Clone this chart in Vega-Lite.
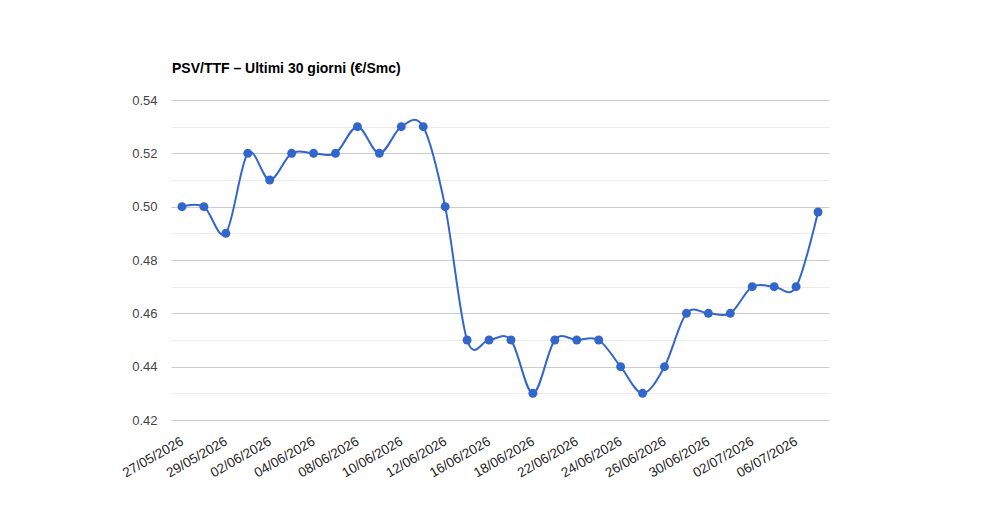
{
  "$schema": "https://vega.github.io/schema/vega-lite/v6.json",
  "autosize": {"type": "none"},
  "width": 658,
  "height": 320,
  "padding": {"left": 171, "top": 100, "right": 171, "bottom": 100},
  "background": "#ffffff",
  "config": {"view": {"stroke": null}, "font": "Liberation Sans"},
  "title": {
    "text": "PSV/TTF – Ultimi 30 giorni (€/Smc)",
    "anchor": "start",
    "frame": "group",
    "font": "Liberation Sans",
    "fontSize": 14,
    "fontWeight": "bold",
    "color": "#000000",
    "baseline": "alphabetic",
    "offset": 7,
    "dx": 1
  },
  "data": {
    "values": [
      {"data": "27/05/2026", "valore": 0.50},
      {"data": "28/05/2026", "valore": 0.50},
      {"data": "29/05/2026", "valore": 0.49},
      {"data": "01/06/2026", "valore": 0.52},
      {"data": "02/06/2026", "valore": 0.51},
      {"data": "03/06/2026", "valore": 0.52},
      {"data": "04/06/2026", "valore": 0.52},
      {"data": "05/06/2026", "valore": 0.52},
      {"data": "08/06/2026", "valore": 0.53},
      {"data": "09/06/2026", "valore": 0.52},
      {"data": "10/06/2026", "valore": 0.53},
      {"data": "11/06/2026", "valore": 0.53},
      {"data": "12/06/2026", "valore": 0.50},
      {"data": "15/06/2026", "valore": 0.45},
      {"data": "16/06/2026", "valore": 0.45},
      {"data": "17/06/2026", "valore": 0.45},
      {"data": "18/06/2026", "valore": 0.43},
      {"data": "19/06/2026", "valore": 0.45},
      {"data": "22/06/2026", "valore": 0.45},
      {"data": "23/06/2026", "valore": 0.45},
      {"data": "24/06/2026", "valore": 0.44},
      {"data": "25/06/2026", "valore": 0.43},
      {"data": "26/06/2026", "valore": 0.44},
      {"data": "29/06/2026", "valore": 0.46},
      {"data": "30/06/2026", "valore": 0.46},
      {"data": "01/07/2026", "valore": 0.46},
      {"data": "02/07/2026", "valore": 0.47},
      {"data": "03/07/2026", "valore": 0.47},
      {"data": "06/07/2026", "valore": 0.47},
      {"data": "07/07/2026", "valore": 0.498}
    ]
  },
  "encoding": {
    "x": {
      "field": "data",
      "type": "ordinal",
      "sort": null,
      "scale": {"type": "point", "padding": 0.5},
      "axis": {
        "title": null,
        "values": ["27/05/2026", "29/05/2026", "02/06/2026", "04/06/2026", "08/06/2026", "10/06/2026", "12/06/2026", "16/06/2026", "18/06/2026", "22/06/2026", "24/06/2026", "26/06/2026", "30/06/2026", "02/07/2026", "06/07/2026"],
        "labelAngle": -30,
        "labelAlign": "right",
        "labelBaseline": "middle",
        "labelFont": "Liberation Sans",
        "labelFontSize": 13.5,
        "labelColor": "#222222",
        "labelPadding": 20,
        "ticks": false,
        "domain": false,
        "grid": false
      }
    },
    "y": {
      "field": "valore",
      "type": "quantitative",
      "scale": {"domain": [0.42, 0.54], "nice": false, "zero": false}
    }
  },
  "layer": [
    {
      "mark": {"type": "line", "interpolate": "cardinal", "color": "#3366cc", "strokeWidth": 2},
      "encoding": {
        "y": {
          "field": "valore",
          "type": "quantitative",
          "axis": {
            "values": [0.43, 0.45, 0.47, 0.49, 0.51, 0.53],
            "grid": true,
            "gridColor": "#ebebeb",
            "gridWidth": 1,
            "labels": false,
            "ticks": false,
            "domain": false,
            "title": null,
            "orient": "left"
          }
        }
      }
    },
    {
      "mark": {"type": "point", "filled": true, "size": 80, "color": "#3366cc", "opacity": 1},
      "encoding": {
        "y": {
          "field": "valore",
          "type": "quantitative",
          "axis": {
            "values": [0.42, 0.44, 0.46, 0.48, 0.50, 0.52, 0.54],
            "format": ".2f",
            "grid": true,
            "gridColor": "#cccccc",
            "gridWidth": 1,
            "ticks": false,
            "domain": false,
            "title": null,
            "orient": "left",
            "labelFont": "Liberation Sans",
            "labelFontSize": 13,
            "labelColor": "#444444",
            "labelPadding": 14
          }
        }
      }
    }
  ],
  "resolve": {"axis": {"y": "independent"}}
}
